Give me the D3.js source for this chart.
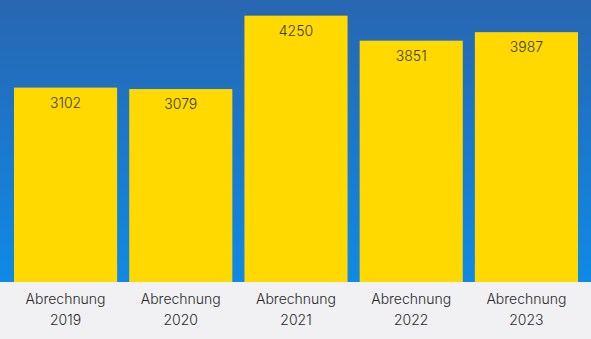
<!DOCTYPE html>
<html>
<head>
<meta charset="utf-8">
<script src="https://cdn.jsdelivr.net/npm/d3@7"></script>
<style>
  html, body { margin: 0; padding: 0; background: #f1f1f3; }
  svg { display: block; }
</style>
</head>
<body>
<div id="body"></div>
<script>
// chart data
var categories = ['2019', '2020', '2021', '2022', '2023'];
var values = [3102, 3079, 4250, 3851, 3987];
var labelPrefix = 'Abrechnung';

var width = 591;
var height = 339;
var plotBottom = 282;

var svg = d3.select('#body')
  .append('svg')
  .attr('width', width)
  .attr('height', height);

// blue gradient background
var defs = svg.append('defs');
var grad = defs.append('linearGradient')
  .attr('id', 'bg')
  .attr('x1', 0).attr('y1', 0)
  .attr('x2', 0).attr('y2', 1);
grad.append('stop').attr('offset', '0%').attr('stop-color', '#2866b1');
grad.append('stop').attr('offset', '100%').attr('stop-color', '#0f8ae6');

svg.append('rect')
  .attr('x', 0).attr('y', 0)
  .attr('width', width).attr('height', plotBottom)
  .attr('fill', 'url(#bg)');

// grey strip with labels
svg.append('rect')
  .attr('x', 0).attr('y', plotBottom)
  .attr('width', width).attr('height', height - plotBottom)
  .attr('fill', '#f1f1f3');

var x = d3.scaleBand()
  .domain(categories)
  .range([14, 578])
  .paddingInner(0.105)
  .paddingOuter(0);

var y = d3.scaleLinear()
  .domain([0, 4500])
  .range([plotBottom, 0]);

var bars = svg.selectAll('.bar')
  .data(values)
  .enter()
  .append('g')
  .attr('class', 'bar');

bars.append('rect')
  .attr('x', function(d, i) { return x(categories[i]); })
  .attr('y', function(d) { return y(d); })
  .attr('width', x.bandwidth())
  .attr('height', function(d) { return plotBottom - y(d); })
  .attr('fill', '#ffd900');

bars.append('text')
  .attr('x', function(d, i) { return x(categories[i]) + x.bandwidth() / 2; })
  .attr('y', function(d) { return y(d) + 20; })
  .attr('text-anchor', 'middle')
  .style('font-family', 'Inter, sans-serif')
  .style('font-weight', '300')
  .style('font-size', '14px')
  .style('fill', '#3a3a26')
  .text(function(d) { return d; });

// category labels
var labels = svg.selectAll('.cat')
  .data(categories)
  .enter()
  .append('text')
  .attr('class', 'cat')
  .attr('text-anchor', 'middle')
  .style('font-family', 'Inter, sans-serif')
  .style('font-weight', '300')
  .style('font-size', '14px')
  .style('fill', '#2a2a2a')
  .attr('x', function(d) { return x(d) + x.bandwidth() / 2; });

labels.append('tspan')
  .attr('x', function(d) { return x(d) + x.bandwidth() / 2; })
  .attr('y', 304)
  .text(labelPrefix);

labels.append('tspan')
  .attr('x', function(d) { return x(d) + x.bandwidth() / 2; })
  .attr('y', 325)
  .text(function(d) { return d; });
</script>
</body>
</html>
